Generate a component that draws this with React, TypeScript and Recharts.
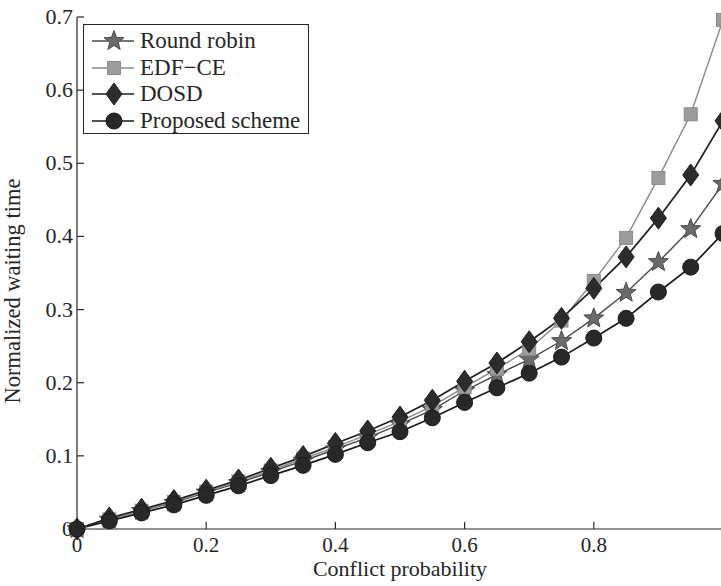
import React from 'react';
import { LineChart, Line, XAxis, YAxis } from 'recharts';

// conflict probability (x) and normalized waiting time per scheme
const probability = [0, 0.05, 0.1, 0.15, 0.2, 0.25, 0.3, 0.35, 0.4, 0.45, 0.5, 0.55, 0.6, 0.65, 0.7, 0.75, 0.8, 0.85, 0.9, 0.95, 1.0];
const roundRobin = [0, 0.013, 0.025, 0.036, 0.050, 0.063, 0.078, 0.093, 0.109, 0.125, 0.143, 0.163, 0.189, 0.211, 0.232, 0.257, 0.288, 0.323, 0.365, 0.410, 0.472];
const edfCe = [0, 0.013, 0.025, 0.037, 0.051, 0.065, 0.080, 0.096, 0.112, 0.129, 0.147, 0.168, 0.194, 0.219, 0.246, 0.285, 0.339, 0.398, 0.480, 0.567, 0.696];
const dosd = [0, 0.015, 0.027, 0.039, 0.053, 0.067, 0.083, 0.099, 0.117, 0.134, 0.153, 0.176, 0.202, 0.227, 0.256, 0.288, 0.329, 0.372, 0.425, 0.484, 0.558];
const proposed = [0, 0.011, 0.022, 0.033, 0.046, 0.059, 0.073, 0.087, 0.102, 0.118, 0.133, 0.152, 0.173, 0.193, 0.213, 0.235, 0.261, 0.288, 0.324, 0.358, 0.404];

const xTicks = [0, 0.2, 0.4, 0.6, 0.8];
const yTicks = [0, 0.1, 0.2, 0.3, 0.4, 0.5, 0.6, 0.7];

const FONT = '"Liberation Serif", "Times New Roman", serif';
const INK = '#262626';

const data = probability.map((x, i) => ({
  x,
  rr: roundRobin[i],
  edf: edfCe[i],
  dosd: dosd[i],
  prop: proposed[i],
}));

type Shape = 'star' | 'square' | 'diamond' | 'circle';

const starPoints = (cx: number, cy: number, r: number) => {
  const pts: string[] = [];
  for (let k = 0; k < 10; k++) {
    const rad = k % 2 === 0 ? r : r * 0.42;
    const a = -Math.PI / 2 + (k * Math.PI) / 5;
    pts.push(`${cx + rad * Math.cos(a)},${cy + rad * Math.sin(a)}`);
  }
  return pts.join(' ');
};

const Marker = ({ shape, cx, cy, fill, stroke }: { shape: Shape; cx: number; cy: number; fill: string; stroke: string }) => {
  if (shape === 'star') return <polygon points={starPoints(cx, cy, 10.5)} fill={fill} stroke={stroke} strokeWidth={1} />;
  if (shape === 'square') return <rect x={cx - 6.5} y={cy - 6.5} width={13} height={13} fill={fill} stroke={stroke} strokeWidth={1} />;
  if (shape === 'diamond')
    return <polygon points={`${cx},${cy - 11} ${cx + 8},${cy} ${cx},${cy + 11} ${cx - 8},${cy}`} fill={fill} stroke={stroke} strokeWidth={1} />;
  return <circle cx={cx} cy={cy} r={8} fill={fill} stroke={stroke} strokeWidth={1} />;
};

const SERIES: { key: string; name: string; shape: Shape; line: string; fill: string; width: number }[] = [
  { key: 'rr', name: 'Round robin', shape: 'star', line: '#4a4a4a', fill: '#6a6a6a', width: 1.4 },
  { key: 'edf', name: 'EDF\u2212CE', shape: 'square', line: '#8a8a8a', fill: '#9c9c9c', width: 1.4 },
  { key: 'dosd', name: 'DOSD', shape: 'diamond', line: '#1e1e1e', fill: '#2c2c2c', width: 1.7 },
  { key: 'prop', name: 'Proposed scheme', shape: 'circle', line: '#1a1a1a', fill: '#282828', width: 1.7 },
];

const fmt = (v: number) => (v === 0 ? '0' : v.toFixed(1));

const BottomTick = ({ x, y, payload }: any) => (
  <g>
    <line x1={x} y1={y} x2={x} y2={y - 7} stroke={INK} strokeWidth={1.2} />
    <text x={x} y={y + 23} textAnchor="middle" fontFamily={FONT} fontSize={21} fill={INK}>
      {fmt(payload.value)}
    </text>
  </g>
);

const TopTick = ({ x, y }: any) => <line x1={x} y1={y} x2={x} y2={y + 7} stroke={INK} strokeWidth={1.2} />;

const LeftTick = ({ x, y, payload }: any) => (
  <g>
    <line x1={x} y1={y} x2={x + 7} y2={y} stroke={INK} strokeWidth={1.2} />
    <text x={x - 4} y={y + 7} textAnchor="end" fontFamily={FONT} fontSize={22} fill={INK}>
      {fmt(payload.value)}
    </text>
  </g>
);

const RightTick = ({ x, y }: any) => <line x1={x} y1={y} x2={x - 7} y2={y} stroke={INK} strokeWidth={1.2} />;

const LegendBox = () => (
  <div
    style={{
      position: 'absolute',
      left: 83,
      top: 24,
      width: 226,
      height: 110,
      border: `1.2px solid ${INK}`,
      background: '#fff',
      fontFamily: FONT,
      fontSize: 23,
      color: INK,
      boxSizing: 'border-box',
      paddingTop: 3,
    }}
  >
    {SERIES.map((s) => (
      <div key={s.key} style={{ display: 'flex', alignItems: 'center', height: 26.5 }}>
        <svg width={55} height={26} style={{ flex: 'none' }}>
          <line x1={8} y1={13} x2={50} y2={13} stroke={s.line} strokeWidth={s.width} />
          <Marker shape={s.shape} cx={30} cy={13} fill={s.fill} stroke={s.line} />
        </svg>
        <span style={{ marginLeft: 1, lineHeight: '26px' }}>{s.name}</span>
      </div>
    ))}
  </div>
);

export default function App() {
  return (
    <div style={{ position: 'fixed', left: 0, top: 0, width: 721, height: 586, overflow: 'hidden', background: '#fff' }}>
      <LineChart width={740} height={586} data={data} margin={{ top: 17, right: 0, bottom: 0, left: 0 }}>
        <XAxis
          dataKey="x"
          type="number"
          domain={[0, 1]}
          ticks={xTicks}
          interval={0}
          height={57}
          tickSize={0}
          tickMargin={0}
          tick={<BottomTick />}
          axisLine={{ stroke: INK, strokeWidth: 1.2 }}
          label={{ value: 'Conflict probability', position: 'insideBottom', offset: 10, fontFamily: FONT, fontSize: 22, fill: INK }}
        />
        <XAxis
          xAxisId="top"
          dataKey="x"
          type="number"
          orientation="top"
          domain={[0, 1]}
          ticks={xTicks}
          interval={0}
          height={0}
          tickSize={0}
          tickMargin={0}
          tick={<TopTick />}
          axisLine={{ stroke: INK, strokeWidth: 1.2 }}
        />
        <YAxis
          type="number"
          domain={[0, 0.7]}
          ticks={yTicks}
          interval={0}
          width={77}
          tickSize={0}
          tickMargin={0}
          tick={<LeftTick />}
          axisLine={{ stroke: INK, strokeWidth: 1.2 }}
          label={{ value: 'Normalized waiting time', angle: -90, position: 'insideLeft', offset: 12, dy: 18, style: { textAnchor: 'middle' }, fontFamily: FONT, fontSize: 22.5, fill: INK }}
        />
        <YAxis
          yAxisId="right"
          type="number"
          orientation="right"
          domain={[0, 0.7]}
          ticks={yTicks}
          interval={0}
          width={17}
          tickSize={0}
          tickMargin={0}
          tick={<RightTick />}
          axisLine={{ stroke: INK, strokeWidth: 1.2 }}
        />
        {SERIES.map((s) => (
          <Line
            key={s.key}
            dataKey={s.key}
            name={s.name}
            type="linear"
            stroke={s.line}
            strokeWidth={s.width}
            isAnimationActive={false}
            dot={(p: any) => <Marker key={`${s.key}-${p.index}`} shape={s.shape} cx={p.cx} cy={p.cy} fill={s.fill} stroke={s.line} />}
            activeDot={false}
          />
        ))}
      </LineChart>
      <LegendBox />
    </div>
  );
}
